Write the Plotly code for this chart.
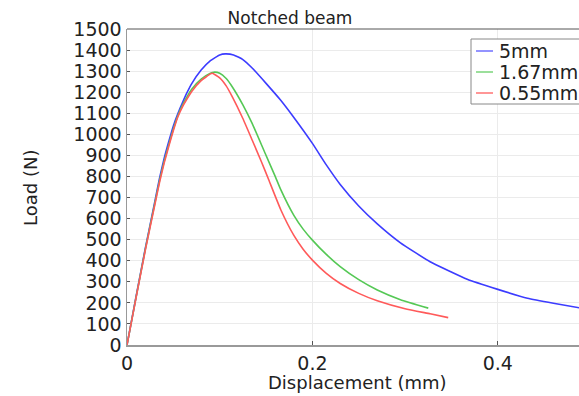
import plotly.graph_objects as go

# 5mm mesh
disp_5 = [0, 0.01, 0.02, 0.03, 0.035, 0.04, 0.045, 0.05, 0.055, 0.06, 0.065, 0.07, 0.08, 0.09,
          0.1, 0.106, 0.115, 0.125, 0.135, 0.15, 0.1656, 0.18, 0.2, 0.215, 0.23, 0.25, 0.27,
          0.295, 0.327, 0.367, 0.4, 0.432, 0.46, 0.49]
load_5 = [0, 235, 465, 680, 790, 885, 965, 1040, 1100, 1152, 1200, 1242, 1305, 1350,
          1377, 1382, 1377, 1355, 1315, 1242, 1163, 1080, 957, 855, 762, 660, 575,
          485, 395, 312, 264, 222, 198, 175]

# 1.67mm mesh
disp_167 = [0, 0.01, 0.02, 0.03, 0.035, 0.04, 0.045, 0.05, 0.055, 0.06, 0.065, 0.07, 0.08, 0.09,
            0.0937, 0.1, 0.107, 0.1135, 0.125, 0.135, 0.149, 0.16, 0.166, 0.18, 0.19, 0.2, 0.215,
            0.23, 0.25, 0.27, 0.295, 0.325]
load_167 = [0, 232, 460, 672, 778, 870, 950, 1025, 1090, 1140, 1180, 1215, 1262, 1290,
            1295, 1290, 1265, 1226, 1140, 1052, 910, 799, 736, 615, 550, 498, 430,
            372, 310, 261, 215, 175]

# 0.55mm mesh
disp_055 = [0, 0.01, 0.02, 0.03, 0.035, 0.04, 0.045, 0.05, 0.055, 0.06, 0.065, 0.07, 0.08, 0.09,
            0.092, 0.1, 0.107, 0.1135, 0.125, 0.135, 0.145, 0.153, 0.166, 0.18, 0.19, 0.2, 0.215,
            0.23, 0.25, 0.27, 0.3, 0.327, 0.3465]
load_055 = [0, 230, 455, 665, 770, 862, 942, 1018, 1085, 1132, 1170, 1205, 1255, 1287,
            1290, 1268, 1230, 1179, 1075, 973, 870, 783, 641, 520, 455, 403, 340,
            292, 245, 210, 172, 148, 130]

names = ["5mm", "1.67mm", "0.55mm"]
colors = ["#3c3cff", "#55c855", "#ff5a5a"]
legend_colors = ["#7878ff", "#82d882", "#ff7c7c"]

y_ticks = list(range(0, 1501, 100))
x_ticks = [0, 0.2, 0.4]
x_tick_text = ["0", "0.2", "0.4"]

FONT = "DejaVu Sans"
TXT = "#222222"

W, H = 579, 396
L, T, B = 127, 29, 51
PW, PH = W - L, H - B - T


def px(X):  # window pixel -> plot paper x
    return (X - L) / PW


def py(Y):  # window pixel -> plot paper y
    return (H - B - Y) / PH


fig = go.Figure()
for xs, ys, nm, c in zip([disp_5, disp_167, disp_055], [load_5, load_167, load_055], names, colors):
    fig.add_trace(go.Scatter(x=xs, y=ys, mode="lines", name=nm, showlegend=False,
                             line=dict(color=c, width=1.6, shape="spline", smoothing=0.4)))

fig.update_layout(
    width=W, height=H,
    margin=dict(l=L, r=0, t=T, b=B, autoexpand=False),
    paper_bgcolor="white", plot_bgcolor="white",
    font=dict(family=FONT, size=18, color=TXT),
    title=dict(text="Notched beam", x=290 / W, xref="container", xanchor="center",
               y=1 - 18 / H, yanchor="middle", yref="container",
               font=dict(family=FONT, size=17, color=TXT)),
    showlegend=False,
)
fig.update_xaxes(range=[0, 0.4876], tickvals=x_ticks, ticktext=x_tick_text, automargin=False,
                 showgrid=True, gridcolor="#ebebeb", gridwidth=1, zeroline=False,
                 showline=True, linecolor="#999999", linewidth=2, mirror=False,
                 ticks="inside", ticklen=4, tickcolor="#555555",
                 tickfont=dict(family=FONT, size=19, color=TXT))
fig.update_yaxes(range=[0, 1500], tickvals=y_ticks, automargin=False,
                 showgrid=True, gridcolor="#ebebeb", gridwidth=1, zeroline=False,
                 showline=True, linecolor="#999999", linewidth=1.5,
                 ticks="inside", ticklen=3, tickcolor="#555555",
                 tickfont=dict(family=FONT, size=19, color=TXT))
# top frame line
fig.add_shape(type="line", xref="paper", yref="paper", x0=0, x1=1, y0=1, y1=1,
              line=dict(color="#555555", width=1))
# axis titles
fig.add_annotation(text="Displacement (mm)", xref="paper", yref="paper",
                   x=px(357), y=py(382), xanchor="center", yanchor="middle",
                   showarrow=False, font=dict(family=FONT, size=18, color=TXT))
fig.add_annotation(text="Load (N)", xref="paper", yref="paper", textangle=-90,
                   x=px(30), y=py(188), xanchor="center", yanchor="middle",
                   showarrow=False, font=dict(family=FONT, size=18, color=TXT))

# legend box (drawn like the reference: tight rows, clipped at right edge)
fig.add_shape(type="rect", xref="paper", yref="paper", layer="above",
              x0=px(471), x1=px(600), y0=py(104), y1=py(39),
              line=dict(color="#888888", width=1), fillcolor="white")
row_y = [51, 72, 93]
for nm, c, ry in zip(names, legend_colors, row_y):
    fig.add_shape(type="line", xref="paper", yref="paper", layer="above",
                  x0=px(476), x1=px(493), y0=py(ry), y1=py(ry),
                  line=dict(color=c, width=1.6))
    fig.add_annotation(text=nm, xref="paper", yref="paper", x=px(497), y=py(ry),
                       xanchor="left", yanchor="middle", showarrow=False,
                       font=dict(family=FONT, size=19, color=TXT))

fig.write_html("out.html", config={"displayModeBar": False, "staticPlot": True},
               post_script="document.body.style.margin='0';document.body.style.overflow='hidden';")
